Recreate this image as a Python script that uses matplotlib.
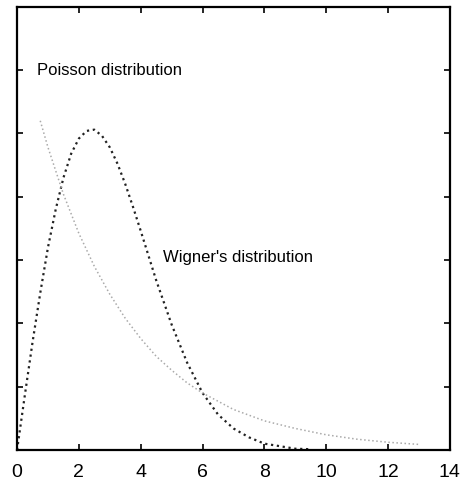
import matplotlib.pyplot as plt
import numpy as np

# Wigner's distribution
wig_x = [0, 0.25, 0.5, 0.75, 1, 1.25, 1.5, 1.75, 2, 2.25, 2.5, 2.75, 3, 3.25, 3.5,
         3.75, 4, 4.5, 5, 5.5, 6, 6.5, 7, 7.5, 8, 8.5, 9, 9.5]
wig_y = [0, 0.043, 0.085, 0.124, 0.160, 0.190, 0.215, 0.234, 0.246, 0.252, 0.253,
         0.248, 0.239, 0.226, 0.210, 0.192, 0.173, 0.134, 0.099,
         0.069, 0.045, 0.028, 0.017, 0.010, 0.005, 0.003, 0.001, 0.0006]

# Poisson distribution
poi_x = [0.75, 1, 1.5, 2, 2.5, 3, 3.5, 4, 4.5, 5, 5.5, 6, 7, 8, 9, 10, 11, 12, 13]
poi_y = [0.260, 0.239, 0.202, 0.171, 0.145, 0.123, 0.104, 0.088, 0.074, 0.063,
         0.053, 0.045, 0.032, 0.023, 0.017, 0.012, 0.0085, 0.0061, 0.0044]

xticks = [0, 2, 4, 6, 8, 10, 12, 14]
yticks = [0, 0.05, 0.10, 0.15, 0.20, 0.25, 0.30, 0.35]

fig = plt.figure(figsize=(4.61, 4.87), dpi=100)
ax = fig.add_axes([0.037, 0.076, 0.939, 0.910])

ax.plot(wig_x, wig_y, color='#222222', linestyle=':', linewidth=1.6)
ax.plot(poi_x, poi_y, color='#aaaaaa', linestyle=':', linewidth=1.1)

ax.text(0.65, 0.30, 'Poisson distribution', fontsize=12, family='Liberation Sans',
        va='center', ha='left')
ax.text(4.72, 0.152, "Wigner's distribution", fontsize=12, family='Liberation Sans',
        va='center', ha='left')

ax.set_xlim(0, 14)
ax.set_ylim(0, 0.35)
ax.set_xticks(xticks)
ax.set_xticklabels([str(t) for t in xticks], fontsize=14, family='Liberation Sans')
ax.set_yticks(yticks)
ax.set_yticklabels([])
ax.tick_params(direction='in', top=True, right=True, length=4, width=1.2, pad=10)
for s in ax.spines.values():
    s.set_linewidth(1.6)

fig.savefig('out.png', dpi=100)
